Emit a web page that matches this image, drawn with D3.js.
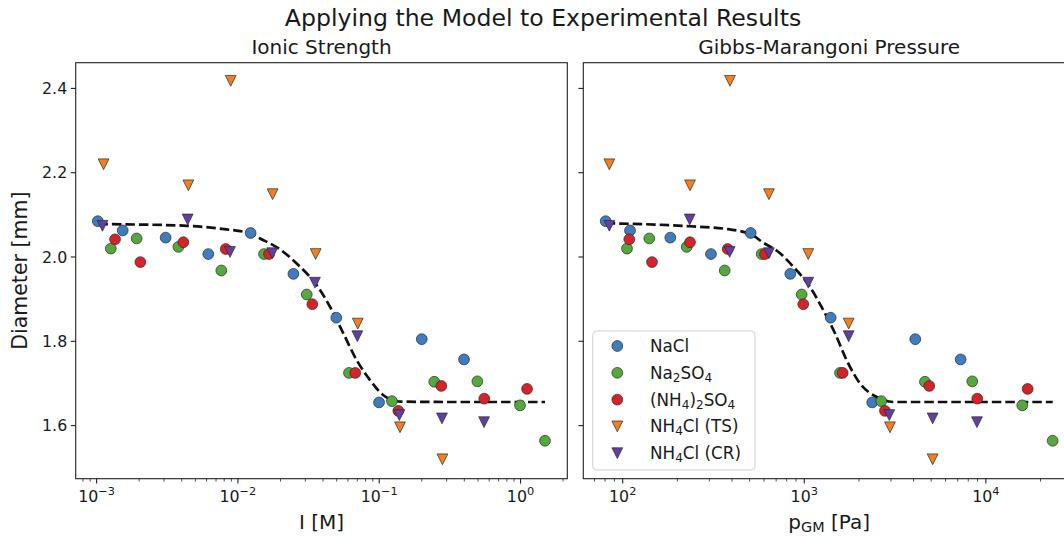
<!DOCTYPE html>
<html>
<head>
<meta charset="utf-8">
<script src="https://cdn.jsdelivr.net/npm/d3@7"></script>
<style>
  body { margin: 0; background: #fff; }
  text { font-family: "DejaVu Sans", sans-serif; fill: #1a1a1a; }
</style>
</head>
<body>
<svg id="chart" width="1064" height="537"></svg>
<script>
// ---- measured droplet diameters (mm), ionic strength I (M), Gibbs-Marangoni pressure (Pa)
const naclI = [0.00102, 0.00153, 0.00308, 0.00617, 0.0123, 0.0247, 0.0497, 0.0997, 0.200, 0.398];
const naclP = [80.6, 109.7, 182.9, 306.3, 506.8, 837.3, 1398, 2368, 4086, 7264];
const naclD = [2.085, 2.063, 2.046, 2.007, 2.057, 1.960, 1.856, 1.655, 1.805, 1.757];

const na2so4I = [0.00126, 0.00192, 0.00379, 0.00763, 0.0153, 0.0307, 0.0611, 0.123, 0.245, 0.495, 0.992, 1.49];
const na2so4P = [105.6, 140.1, 225.2, 364.5, 582.8, 967.6, 1573, 2655, 4618, 8418, 15870, 23330];
const na2so4D = [2.020, 2.044, 2.024, 1.968, 2.007, 1.911, 1.725, 1.658, 1.704, 1.705, 1.648, 1.564];

const nh4so4I = [0.00135, 0.00204, 0.00411, 0.00820, 0.0166, 0.0336, 0.0677, 0.1365, 0.275, 0.554, 1.112];
const nh4so4P = [108.7, 145.0, 234.8, 378.6, 607.7, 987.4, 1627, 2782, 4879, 8967, 16990];
const nh4so4D = [2.042, 1.988, 2.035, 2.019, 2.007, 1.888, 1.725, 1.635, 1.694, 1.664, 1.687];

const nh4clTsI = [0.00112, 0.00446, 0.00889, 0.0176, 0.0355, 0.0705, 0.1403, 0.280];
const nh4clTsP = [84.4, 234.8, 389.8, 639, 1052, 1756, 2965, 5093];
const nh4clTsD = [2.220, 2.170, 2.418, 2.149, 2.007, 1.842, 1.596, 1.520];

const nh4clCrI = [0.00110, 0.00441, 0.00879, 0.0175, 0.0351, 0.0700, 0.1388, 0.278, 0.552];
const nh4clCrP = [84.4, 233.9, 388.3, 639, 1052, 1756, 2939, 5093, 8933];
const nh4clCrD = [2.074, 2.089, 2.012, 2.009, 1.939, 1.812, 1.625, 1.617, 1.608];

// ---- model curve samples
const modelI  = [0.00103, 0.0020, 0.00436, 0.0080, 0.01218, 0.01433, 0.01986, 0.02751, 0.03612, 0.04484, 0.0557, 0.06931, 0.08606, 0.1069, 0.1403, 0.30, 1.49];
const modelID = [2.078, 2.077, 2.074, 2.066, 2.056, 2.044, 2.018, 1.977, 1.933, 1.882, 1.819, 1.755, 1.708, 1.672, 1.657, 1.656, 1.656];
const modelP  = [80.6, 150, 234.8, 380, 506.8, 594.7, 734.9, 869.8, 1075, 1272, 1476, 1712, 2026, 2504, 3091, 6000, 23350];
const modelPD = [2.080, 2.077, 2.073, 2.066, 2.054, 2.034, 2.009, 1.977, 1.929, 1.874, 1.819, 1.755, 1.700, 1.668, 1.656, 1.656, 1.656];

// ---- legend labels ("_x" marks a subscript character)
const seriesNames  = ["NaCl", "Na_2SO_4", "(NH_4)_2SO_4", "NH_4Cl (TS)", "NH_4Cl (CR)"];
const seriesColors = ["#3f7cc0", "#55a83e", "#d6232a", "#f28020", "#633fa0"];
const seriesShapes = ["circle", "circle", "circle", "tridown", "tridown"];

const yTicks = [1.6, 1.8, 2.0, 2.2, 2.4];
const panelTitles = ["Ionic Strength", "Gibbs-Marangoni Pressure"];
const mainTitle = "Applying the Model to Experimental Results";

const series = [
  { I: naclI,    P: naclP,    D: naclD },
  { I: na2so4I,  P: na2so4P,  D: na2so4D },
  { I: nh4so4I,  P: nh4so4P,  D: nh4so4D },
  { I: nh4clTsI, P: nh4clTsP, D: nh4clTsD },
  { I: nh4clCrI, P: nh4clCrP, D: nh4clCrD }
].map((s, k) => ({ ...s, name: seriesNames[k], color: seriesColors[k], shape: seriesShapes[k] }));

const svg = d3.select("#chart");
const plotTop = 62.7, plotBottom = 478.7;

const y = d3.scaleLinear().domain([1.474, 2.461]).range([plotBottom, plotTop]);

const panels = [
  { x0: 75.7, x1: 567.3, x: d3.scaleLog().domain([Math.pow(10, -3.148), Math.pow(10, 0.331)]), key: "I",
    curveX: modelI, curveY: modelID, title: panelTitles[0], label: [["I [M]", ""]], yLabels: true },
  { x0: 583.3, x1: 1075, x: d3.scaleLog().domain([Math.pow(10, 1.783), Math.pow(10, 4.491)]), key: "P",
    curveX: modelP, curveY: modelPD, title: panelTitles[1], label: [["p", ""], ["GM", "sub"], [" [Pa]", ""]], yLabels: false }
];
panels.forEach(p => p.x.range([p.x0, p.x1]));

const S = 10.8; // marker size in px
function markerPath(shape) {
  if (shape === "circle") return d3.symbol(d3.symbolCircle, Math.PI * (S / 2) * (S / 2))();
  const h = S / 2;
  return `M${-h},${-h}L${h},${-h}L0,${h}Z`;
}

function addRich(textSel, parts, subScale) {
  parts.forEach(([t, kind]) => {
    const ts = textSel.append("tspan").text(t);
    if (kind === "sub") ts.attr("font-size", subScale + "em").attr("baseline-shift", "-22%");
  });
}
function parseSub(label) {
  const parts = [];
  const re = /_(.)/g;
  let last = 0, m;
  while ((m = re.exec(label)) !== null) {
    if (m.index > last) parts.push([label.slice(last, m.index), ""]);
    parts.push([m[1], "sub"]);
    last = re.lastIndex;
  }
  if (last < label.length) parts.push([label.slice(last), ""]);
  return parts;
}

// main title
svg.append("text").attr("x", 543).attr("y", 26).attr("text-anchor", "middle")
  .attr("font-size", 23.6).text(mainTitle);

panels.forEach((p, pi) => {
  const g = svg.append("g");
  const clipId = "clip" + pi;
  svg.append("clipPath").attr("id", clipId).append("rect")
    .attr("x", p.x0).attr("y", plotTop).attr("width", p.x1 - p.x0).attr("height", plotBottom - plotTop);

  // model curve
  const line = d3.line().x((d, i) => p.x(p.curveX[i])).y((d, i) => y(p.curveY[i])).curve(d3.curveMonotoneX);
  g.append("path").datum(p.curveX).attr("d", line)
    .attr("fill", "none").attr("stroke", "#111").attr("stroke-width", 2.7)
    .attr("stroke-dasharray", "9.5,4").attr("clip-path", `url(#${clipId})`);

  // scatter series
  series.forEach(s => {
    g.append("g").selectAll("path").data(s.D).join("path")
      .attr("d", markerPath(s.shape))
      .attr("transform", (d, i) => `translate(${p.x(s[p.key][i])},${y(d)})`)
      .attr("fill", s.color).attr("stroke", "#2a2a2a").attr("stroke-width", 0.7);
  });

  // frame
  g.append("rect").attr("x", p.x0).attr("y", plotTop).attr("width", p.x1 - p.x0).attr("height", plotBottom - plotTop)
    .attr("fill", "none").attr("stroke", "#222").attr("stroke-width", 1.1);

  // y ticks
  yTicks.forEach(t => {
    g.append("line").attr("x1", p.x0).attr("x2", p.x0 - 4.9).attr("y1", y(t)).attr("y2", y(t))
      .attr("stroke", "#222").attr("stroke-width", 1.1);
    if (p.yLabels) {
      g.append("text").attr("x", p.x0 - 8.5).attr("y", y(t)).attr("dy", "0.36em")
        .attr("text-anchor", "end").attr("font-size", 15.8).text(t.toFixed(1));
    }
  });

  // x ticks (log: majors at decades, minors at 2..9)
  const [d0, d1] = p.x.domain();
  for (let e = Math.floor(Math.log10(d0)); e <= Math.ceil(Math.log10(d1)); e++) {
    for (let m = 1; m <= 9; m++) {
      const v = m * Math.pow(10, e);
      if (v < d0 || v > d1) continue;
      const px = p.x(v);
      const major = m === 1;
      g.append("line").attr("x1", px).attr("x2", px).attr("y1", plotBottom).attr("y2", plotBottom + (major ? 4.9 : 2.8))
        .attr("stroke", "#222").attr("stroke-width", major ? 1.1 : 0.8);
      if (major) {
        const t = g.append("text").attr("x", px).attr("y", plotBottom + 23).attr("text-anchor", "middle")
          .attr("font-size", 15.8);
        t.append("tspan").text("10");
        t.append("tspan").attr("font-size", "0.72em").attr("dy", "-0.62em")
          .text(e < 0 ? "\u2212" + (-e) : String(e));
      }
    }
  }

  // panel title
  g.append("text").attr("x", (p.x0 + p.x1) / 2).attr("y", 54).attr("text-anchor", "middle")
    .attr("font-size", 20).text(p.title);

  // x label
  const xl = g.append("text").attr("x", (p.x0 + p.x1) / 2).attr("y", 529).attr("text-anchor", "middle")
    .attr("font-size", 20);
  addRich(xl, p.label, 0.72);
});

// y label
svg.append("text").attr("transform", `translate(27,${(plotTop + plotBottom) / 2}) rotate(-90)`)
  .attr("text-anchor", "middle").attr("font-size", 20.5).text("Diameter [mm]");

// legend
const lg = svg.append("g");
lg.append("rect").attr("x", 592.7).attr("y", 331).attr("width", 162.3).attr("height", 139)
  .attr("rx", 4).attr("fill", "#fff").attr("fill-opacity", 0.8).attr("stroke", "#d0d0d0").attr("stroke-width", 1);
series.forEach((s, k) => {
  const ry = 346 + k * 26.8;
  lg.append("path").attr("d", markerPath(s.shape)).attr("transform", `translate(617.3,${ry})`)
    .attr("fill", s.color).attr("stroke", "#2a2a2a").attr("stroke-width", 0.7);
  const t = lg.append("text").attr("x", 650).attr("y", ry).attr("dy", "0.36em").attr("font-size", 16.8);
  addRich(t, parseSub(s.name), 0.72);
});
</script>
</body>
</html>
